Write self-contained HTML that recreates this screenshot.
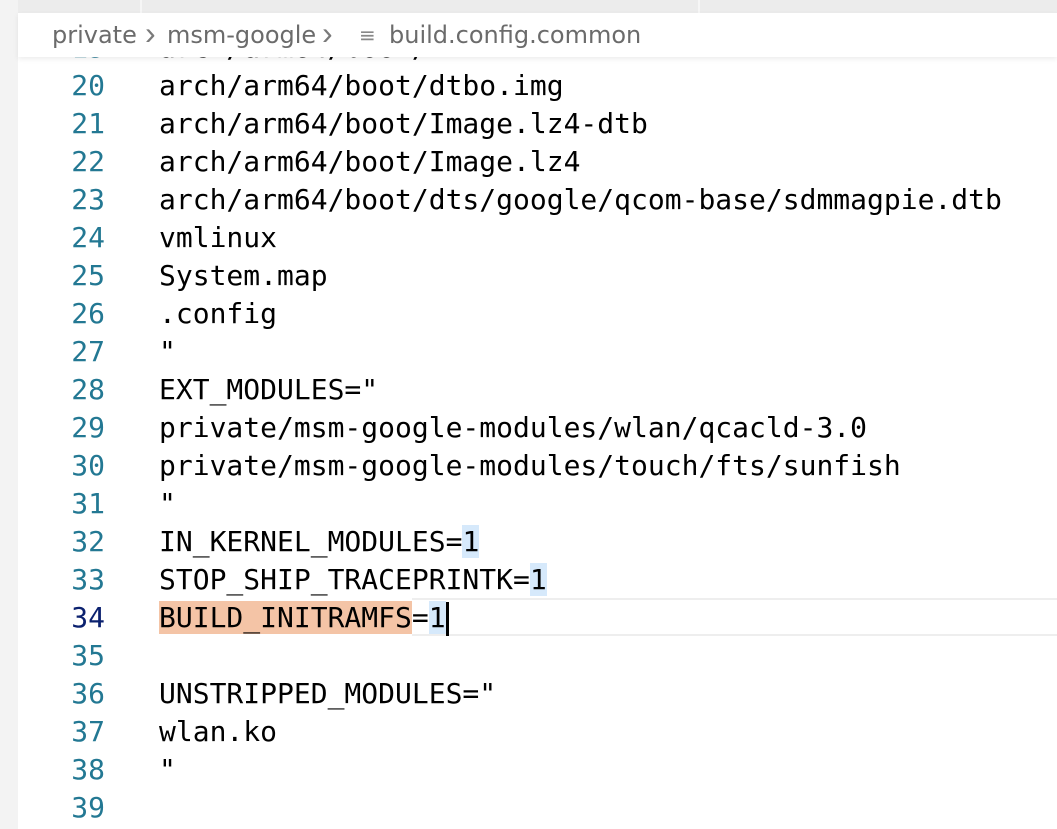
<!DOCTYPE html>
<html><head><meta charset="utf-8"><style>
html,body{margin:0;padding:0;}
body{width:1057px;height:829px;overflow:hidden;background:#fff;position:relative;font-family:"DejaVu Sans Mono",monospace;}
.strip{position:absolute;left:0;top:0;width:18px;height:829px;background:#f3f3f3;}
.tabs{position:absolute;left:18px;top:0;right:0;height:13px;background:#ececec;}
.tabs .d{position:absolute;left:680px;top:0;width:2px;height:13px;background:#f6f6f6;}
.tabs .d2{position:absolute;left:122px;top:0;width:2px;height:13px;background:#f6f6f6;}
.bc{position:absolute;left:18px;top:13px;right:0;height:44px;background:#fff;box-shadow:0 2px 5px rgba(0,0,0,0.08);z-index:3;font-family:"DejaVu Sans","Liberation Sans",sans-serif;font-size:24px;color:#6b6b6b;line-height:44px;white-space:nowrap;}
.bc span{position:absolute;top:0;}
.bc .ch{font-family:"Liberation Sans",sans-serif;font-size:32px;color:#7a7a7a;top:-2px;}
.row{position:absolute;left:18px;right:0;height:38px;line-height:38px;font-size:28px;white-space:pre;color:#000;}
.num{position:absolute;right:952px;width:80px;text-align:right;color:#237893;}
.code{position:absolute;left:141px;}
.cur{border-top:2px solid #eeeeee;border-bottom:2px solid #eeeeee;}
</style></head><body>
<div class="strip"></div>
<div class="tabs"><div class="d2"></div><div class="d"></div></div>
<div class="bc">
<span style="left:34px">private</span>
<span class="ch" style="left:127px">&#x203A;</span>
<span style="left:149px">msm-google</span>
<span class="ch" style="left:304px">&#x203A;</span>
<span style="left:341px;font-size:20px;color:#888">&#x2261;</span>
<span style="left:371px">build.config.common</span>
</div>

<div class="row" style="top:29px"><span class="num">19</span><span class="code">arch/arm64/boot/</span></div>
<div class="row" style="top:67px"><span class="num">20</span><span class="code">arch/arm64/boot/dtbo.img</span></div>
<div class="row" style="top:105px"><span class="num">21</span><span class="code">arch/arm64/boot/Image.lz4-dtb</span></div>
<div class="row" style="top:143px"><span class="num">22</span><span class="code">arch/arm64/boot/Image.lz4</span></div>
<div class="row" style="top:181px"><span class="num">23</span><span class="code">arch/arm64/boot/dts/google/qcom-base/sdmmagpie.dtb</span></div>
<div class="row" style="top:219px"><span class="num">24</span><span class="code">vmlinux</span></div>
<div class="row" style="top:257px"><span class="num">25</span><span class="code">System.map</span></div>
<div class="row" style="top:295px"><span class="num">26</span><span class="code">.config</span></div>
<div class="row" style="top:333px"><span class="num">27</span><span class="code">"</span></div>
<div class="row" style="top:371px"><span class="num">28</span><span class="code">EXT_MODULES="</span></div>
<div class="row" style="top:409px"><span class="num">29</span><span class="code">private/msm-google-modules/wlan/qcacld-3.0</span></div>
<div class="row" style="top:447px"><span class="num">30</span><span class="code">private/msm-google-modules/touch/fts/sunfish</span></div>
<div class="row" style="top:485px"><span class="num">31</span><span class="code">"</span></div>
<div class="row" style="top:523px"><span class="num">32</span><span class="code">IN_KERNEL_MODULES=<span style="background:#d6e9fb">1</span></span></div>
<div class="row" style="top:561px"><span class="num">33</span><span class="code">STOP_SHIP_TRACEPRINTK=<span style="background:#d6e9fb">1</span></span></div>
<div class="row cur" style="top:598px;left:412px;height:34px;"></div>
<div class="row" style="top:599px"><span class="num" style="color:#0b216f">34</span><span class="code"><span style="background:#f4c4a6">BUILD_INITRAMFS</span>=<span style="background:#d6e9fb">1</span><span style="display:inline-block;width:3px;height:34px;background:#000;vertical-align:middle"></span></span></div>
<div class="row" style="top:637px"><span class="num">35</span><span class="code"></span></div>
<div class="row" style="top:675px"><span class="num">36</span><span class="code">UNSTRIPPED_MODULES="</span></div>
<div class="row" style="top:713px"><span class="num">37</span><span class="code">wlan.ko</span></div>
<div class="row" style="top:751px"><span class="num">38</span><span class="code">"</span></div>
<div class="row" style="top:789px"><span class="num">39</span><span class="code"></span></div>
</body></html>
